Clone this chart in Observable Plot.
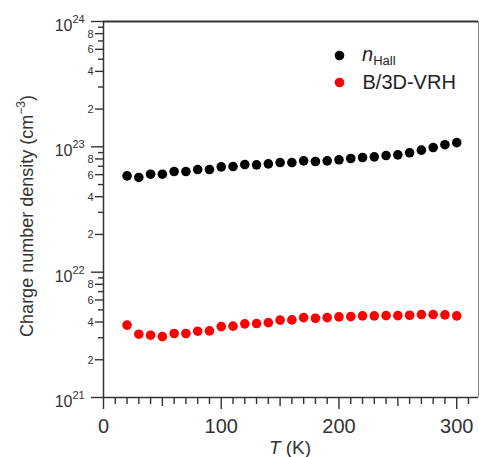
<!DOCTYPE html>
<html><head><meta charset="utf-8">
<script src="https://cdn.jsdelivr.net/npm/d3@7"></script>
<script src="https://cdn.jsdelivr.net/npm/@observablehq/plot@0.6"></script>
<style>
body{margin:0;background:#fff}
svg{font-family:"Liberation Sans",Arial,sans-serif}
</style>
</head><body><div id="chart"></div>
<script>
// Temperature (K)
const T = [20,30,40,50,60,70,80,90,100,110,120,130,140,150,160,170,180,190,200,210,220,230,240,250,260,270,280,290,300];
// n_Hall (cm^-3)
const nHall = [5.87e22,5.70e22,6.05e22,6.05e22,6.35e22,6.35e22,6.59e22,6.59e22,6.92e22,6.96e22,7.22e22,7.18e22,7.31e22,7.49e22,7.49e22,7.73e22,7.64e22,7.73e22,7.88e22,8.07e22,8.22e22,8.32e22,8.52e22,8.63e22,8.96e22,9.41e22,9.87e22,1.04e23,1.08e23];
// B/3D-VRH (cm^-3)
const vrh = [3.78e21,3.20e21,3.14e21,3.06e21,3.24e21,3.24e21,3.38e21,3.40e21,3.68e21,3.71e21,3.87e21,3.89e21,3.96e21,4.14e21,4.16e21,4.34e21,4.29e21,4.34e21,4.40e21,4.42e21,4.48e21,4.48e21,4.50e21,4.50e21,4.53e21,4.59e21,4.59e21,4.56e21,4.48e21];

// tick values
const xMajor = [0,100,200,300];
const xMid = [50,150,250];
const xMinor = [10,20,30,40,60,70,80,90,110,120,130,140,160,170,180,190,210,220,230,240,260,270,280,290,310];
const yDecades = [1e21,1e22,1e23,1e24];
const yLabeled = [2e21,4e21,6e21,8e21,2e22,4e22,6e22,8e22,2e23,4e23,6e23,8e23];
const yLabeledText = ["2","4","6","8","2","4","6","8","2","4","6","8"];
const yUnlabeled = [3e21,5e21,7e21,9e21,3e22,5e22,7e22,9e22,3e23,5e23,7e23,9e23];

const seriesNames = ["Hall", "B/3D-VRH"];
const seriesColors = ["#000000", "#ff0000"];

const hallData = T.map((t, i) => ({T: t, n: nHall[i]}));
const vrhData = T.map((t, i) => ({T: t, n: vrh[i]}));
const minorLabelData = yLabeled.map((v, i) => ({v, s: yLabeledText[i]}));

const ink = "#333";
const blank = () => "";
const sw = 1.4;

const chart = Plot.plot({
  width: 479, height: 457,
  marginLeft: 103, marginRight: 1, marginTop: 21, marginBottom: 60,
  style: {fontFamily: "Liberation Sans, Arial, sans-serif", color: ink, background: "#fff", overflow: "visible"},
  x: {domain: [0, 318.5]},
  y: {type: "log", domain: [1e21, 1e24]},
  marks: [
    Plot.axisY(yDecades, {tickSize: 12, tickFormat: blank, strokeWidth: sw, label: null}),
    Plot.axisY(yLabeled, {tickSize: 8, tickFormat: blank, strokeWidth: sw, label: null}),
    Plot.axisY(yUnlabeled, {tickSize: 5, tickFormat: blank, strokeWidth: sw, label: null}),
    Plot.text(minorLabelData, {y: "v", text: "s", frameAnchor: "left", textAnchor: "end", dx: -10, dy: 0.5, fontSize: 11, fill: ink}),
    Plot.text(yDecades, {y: d => d, frameAnchor: "left", text: () => "10", textAnchor: "end", dx: -31, dy: 4.5, fontSize: 16, fill: ink}),
    Plot.text(yDecades, {y: d => d, frameAnchor: "left", text: d => String(Math.round(Math.log10(d))), textAnchor: "start", dx: -31, dy: -2, fontSize: 11, fill: ink}),
    Plot.ruleX([0], {stroke: ink, strokeWidth: 1.5}),
    Plot.ruleY([1e21], {stroke: ink, strokeWidth: 1.5}),
    Plot.ruleY([1e24], {stroke: ink, strokeWidth: 2}),
    Plot.ruleX([318.5], {stroke: "#888", strokeWidth: 1}),
    Plot.dot(hallData, {x: "T", y: "n", r: 4.8, fill: seriesColors[0]}),
    Plot.dot(vrhData, {x: "T", y: "n", r: 4.8, fill: seriesColors[1]}),
    // legend
    Plot.dot([0], {frameAnchor: "top-left", dx: 236, dy: 34, r: 4.8, fill: seriesColors[0]}),
    Plot.dot([0], {frameAnchor: "top-left", dx: 236, dy: 61, r: 4.8, fill: seriesColors[1]}),
    Plot.text([seriesNames[1]], {frameAnchor: "top-left", dx: 259, dy: 61, text: d => d, textAnchor: "start", lineAnchor: "middle", fontSize: 20, fill: "#222"}),
    Plot.axisX(xMajor, {tickSize: 12, tickPadding: 9, fontSize: 20, strokeWidth: sw, label: null})
  ]
});

const svg = d3.select(chart);
// minor and mid x ticks, positioned through Plot's own x scale
const xs = chart.scale("x");
const yBottom = 457 - 60;
const tickG = svg.append("g").attr("stroke", ink).attr("stroke-width", sw);
tickG.selectAll("line.minor").data(xMinor).join("line").attr("class", "minor")
  .attr("x1", d => xs.apply(d) + 0.5).attr("x2", d => xs.apply(d) + 0.5)
  .attr("y1", yBottom).attr("y2", yBottom + 7);
tickG.selectAll("line.mid").data(xMid).join("line").attr("class", "mid")
  .attr("x1", d => xs.apply(d) + 0.5).attr("x2", d => xs.apply(d) + 0.5)
  .attr("y1", yBottom).attr("y2", yBottom + 9);

// legend n_Hall
const nh = svg.append("text").attr("x", 362).attr("y", 61).attr("text-anchor", "start")
  .attr("fill", "#222").attr("font-size", 20);
nh.append("tspan").attr("font-style", "italic").text("n");
nh.append("tspan").attr("font-size", 13).attr("dy", 4).text(seriesNames[0]);

// y label
const yl = svg.append("text").attr("transform", "translate(33,216) rotate(-90)")
  .attr("text-anchor", "middle").attr("fill", ink).attr("font-size", 18);
yl.append("tspan").text("Charge number density (cm");
yl.append("tspan").attr("font-size", 12).attr("dy", -8).text("\u22123");
yl.append("tspan").attr("dy", 8).text(")");

// x label
const xl = svg.append("text").attr("x", 290).attr("y", 454).attr("text-anchor", "middle")
  .attr("fill", ink).attr("font-size", 19);
xl.append("tspan").attr("font-style", "italic").text("T");
xl.append("tspan").text(" (K)");

document.getElementById("chart").appendChild(chart);
</script>
</body></html>
